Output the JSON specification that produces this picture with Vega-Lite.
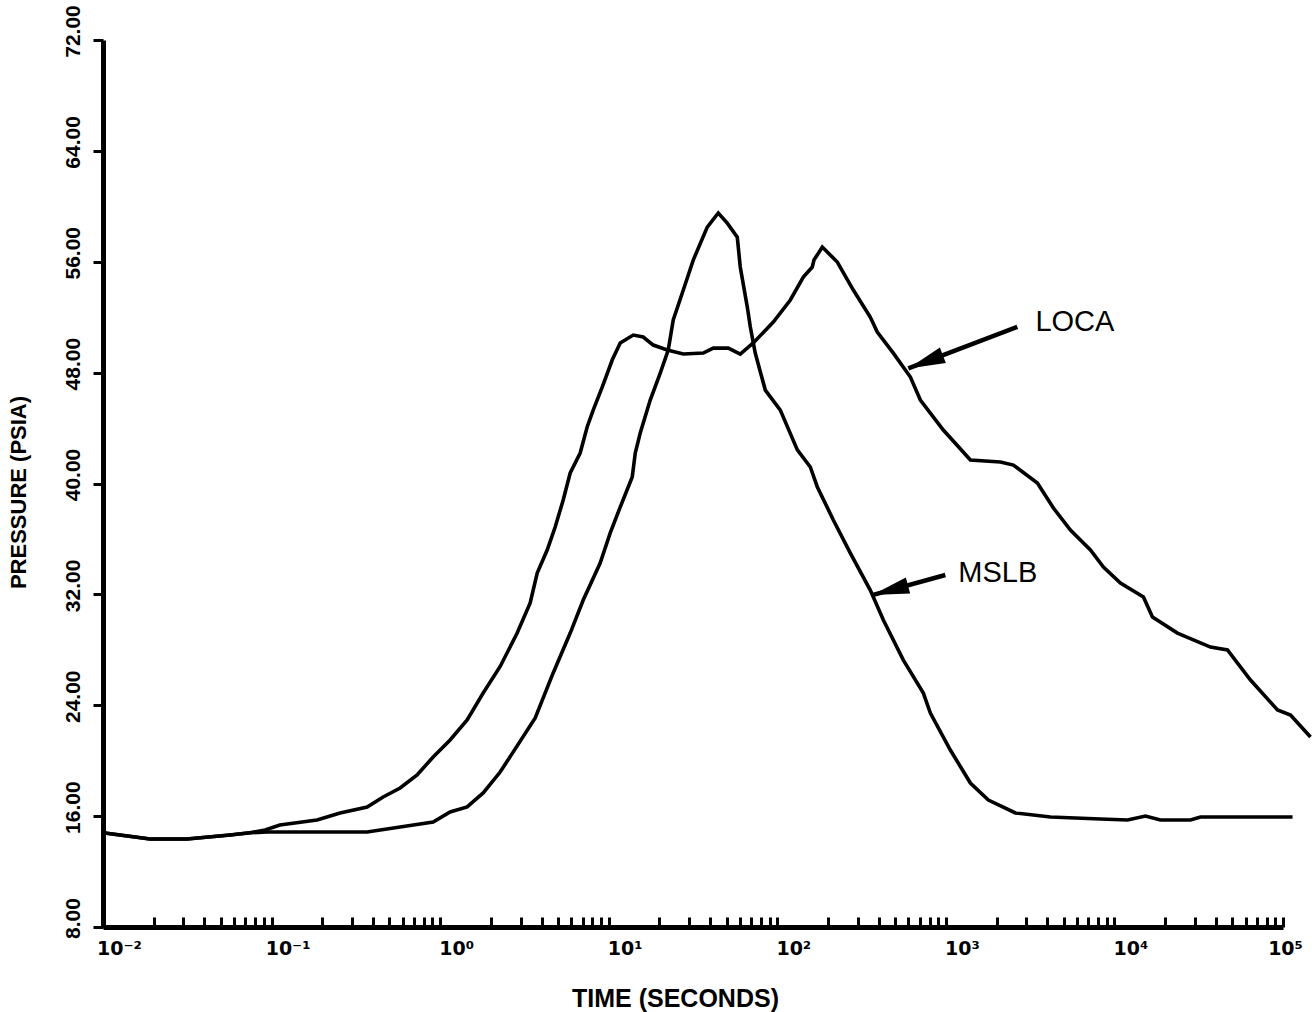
{
  "$schema": "https://vega.github.io/schema/vega-lite/v6.json",
  "autosize": {"type": "none"},
  "padding": {"left": 103, "top": 40, "right": 29, "bottom": 85},
  "width": 1180,
  "height": 887,
  "background": "white",
  "config": {"view": {"stroke": null}, "font": "Liberation Sans"},
  "datasets": {
    "curves": [
      {"series": "LOCA", "t": 0.01, "p": 14.8},
      {"series": "LOCA", "t": 0.019, "p": 14.35},
      {"series": "LOCA", "t": 0.0315, "p": 14.35},
      {"series": "LOCA", "t": 0.0567, "p": 14.64},
      {"series": "LOCA", "t": 0.0745, "p": 14.8},
      {"series": "LOCA", "t": 0.0915, "p": 15.0},
      {"series": "LOCA", "t": 0.112, "p": 15.36},
      {"series": "LOCA", "t": 0.186, "p": 15.72},
      {"series": "LOCA", "t": 0.255, "p": 16.23},
      {"series": "LOCA", "t": 0.369, "p": 16.66},
      {"series": "LOCA", "t": 0.459, "p": 17.38},
      {"series": "LOCA", "t": 0.579, "p": 18.03},
      {"series": "LOCA", "t": 0.73, "p": 18.97},
      {"series": "LOCA", "t": 0.909, "p": 20.27},
      {"series": "LOCA", "t": 1.146, "p": 21.49},
      {"series": "LOCA", "t": 1.446, "p": 22.94},
      {"series": "LOCA", "t": 1.8, "p": 24.88},
      {"series": "LOCA", "t": 2.27, "p": 26.8},
      {"series": "LOCA", "t": 2.864, "p": 29.21},
      {"series": "LOCA", "t": 3.42, "p": 31.38},
      {"series": "LOCA", "t": 3.765, "p": 33.54},
      {"series": "LOCA", "t": 4.315, "p": 35.2},
      {"series": "LOCA", "t": 4.813, "p": 36.86},
      {"series": "LOCA", "t": 5.37, "p": 38.81},
      {"series": "LOCA", "t": 5.91, "p": 40.76},
      {"series": "LOCA", "t": 6.77, "p": 42.2},
      {"series": "LOCA", "t": 7.45, "p": 44.08},
      {"series": "LOCA", "t": 8.09, "p": 45.3},
      {"series": "LOCA", "t": 9.15, "p": 46.96},
      {"series": "LOCA", "t": 10.49, "p": 48.91},
      {"series": "LOCA", "t": 11.7, "p": 50.14},
      {"series": "LOCA", "t": 13.98, "p": 50.71},
      {"series": "LOCA", "t": 16.02, "p": 50.57},
      {"series": "LOCA", "t": 18.37, "p": 49.99},
      {"series": "LOCA", "t": 22.25, "p": 49.63},
      {"series": "LOCA", "t": 27.7, "p": 49.34},
      {"series": "LOCA", "t": 36.4, "p": 49.41},
      {"series": "LOCA", "t": 41.7, "p": 49.77},
      {"series": "LOCA", "t": 51.2, "p": 49.77},
      {"series": "LOCA", "t": 60.3, "p": 49.34},
      {"series": "LOCA", "t": 72.0, "p": 50.14},
      {"series": "LOCA", "t": 94.7, "p": 51.65},
      {"series": "LOCA", "t": 119.5, "p": 53.24},
      {"series": "LOCA", "t": 142.7, "p": 54.9},
      {"series": "LOCA", "t": 161.3, "p": 55.62},
      {"series": "LOCA", "t": 165, "p": 56.12},
      {"series": "LOCA", "t": 185, "p": 57.06},
      {"series": "LOCA", "t": 227, "p": 55.98},
      {"series": "LOCA", "t": 282.5, "p": 53.96},
      {"series": "LOCA", "t": 356, "p": 52.01},
      {"series": "LOCA", "t": 392, "p": 50.93},
      {"series": "LOCA", "t": 488, "p": 49.41},
      {"series": "LOCA", "t": 616, "p": 47.68},
      {"series": "LOCA", "t": 706, "p": 46.02},
      {"series": "LOCA", "t": 966, "p": 43.86},
      {"series": "LOCA", "t": 1398, "p": 41.69},
      {"series": "LOCA", "t": 2106, "p": 41.55},
      {"series": "LOCA", "t": 2516, "p": 41.33},
      {"series": "LOCA", "t": 3491, "p": 40.03},
      {"series": "LOCA", "t": 4345, "p": 38.23},
      {"series": "LOCA", "t": 5482, "p": 36.64},
      {"series": "LOCA", "t": 7204, "p": 35.2},
      {"series": "LOCA", "t": 8604, "p": 33.97},
      {"series": "LOCA", "t": 10854, "p": 32.82},
      {"series": "LOCA", "t": 14864, "p": 31.81},
      {"series": "LOCA", "t": 16810, "p": 30.37},
      {"series": "LOCA", "t": 23650, "p": 29.21},
      {"series": "LOCA", "t": 37130, "p": 28.2},
      {"series": "LOCA", "t": 46840, "p": 27.99},
      {"series": "LOCA", "t": 64140, "p": 25.82},
      {"series": "LOCA", "t": 92770, "p": 23.66},
      {"series": "LOCA", "t": 110800, "p": 23.3},
      {"series": "LOCA", "t": 145600, "p": 21.71},
      {"series": "MSLB", "t": 0.01, "p": 14.8},
      {"series": "MSLB", "t": 0.019, "p": 14.35},
      {"series": "MSLB", "t": 0.0315, "p": 14.35},
      {"series": "MSLB", "t": 0.0567, "p": 14.64},
      {"series": "MSLB", "t": 0.0745, "p": 14.8},
      {"series": "MSLB", "t": 0.094, "p": 14.85},
      {"series": "MSLB", "t": 0.369, "p": 14.85},
      {"series": "MSLB", "t": 0.579, "p": 15.22},
      {"series": "MSLB", "t": 0.909, "p": 15.58},
      {"series": "MSLB", "t": 1.146, "p": 16.3},
      {"series": "MSLB", "t": 1.446, "p": 16.66},
      {"series": "MSLB", "t": 1.8, "p": 17.67},
      {"series": "MSLB", "t": 2.27, "p": 19.18},
      {"series": "MSLB", "t": 3.664, "p": 23.08},
      {"series": "MSLB", "t": 4.683, "p": 26.33},
      {"series": "MSLB", "t": 5.91, "p": 29.21},
      {"series": "MSLB", "t": 7.06, "p": 31.59},
      {"series": "MSLB", "t": 8.9, "p": 34.26},
      {"series": "MSLB", "t": 10.21, "p": 36.43},
      {"series": "MSLB", "t": 11.7, "p": 38.3},
      {"series": "MSLB", "t": 13.79, "p": 40.47},
      {"series": "MSLB", "t": 14.37, "p": 42.2},
      {"series": "MSLB", "t": 15.38, "p": 43.64},
      {"series": "MSLB", "t": 17.63, "p": 46.02},
      {"series": "MSLB", "t": 20.21, "p": 47.97},
      {"series": "MSLB", "t": 22.55, "p": 49.63},
      {"series": "MSLB", "t": 24.14, "p": 51.8},
      {"series": "MSLB", "t": 27.7, "p": 53.96},
      {"series": "MSLB", "t": 31.73, "p": 56.12},
      {"series": "MSLB", "t": 38.42, "p": 58.5},
      {"series": "MSLB", "t": 44.66, "p": 59.52},
      {"series": "MSLB", "t": 50.5, "p": 58.79},
      {"series": "MSLB", "t": 57.9, "p": 57.78},
      {"series": "MSLB", "t": 60.3, "p": 55.62},
      {"series": "MSLB", "t": 66.4, "p": 52.73},
      {"series": "MSLB", "t": 69.2, "p": 51.29},
      {"series": "MSLB", "t": 74.0, "p": 49.41},
      {"series": "MSLB", "t": 84.9, "p": 46.74},
      {"series": "MSLB", "t": 104.2, "p": 45.3},
      {"series": "MSLB", "t": 131.5, "p": 42.42},
      {"series": "MSLB", "t": 157, "p": 41.19},
      {"series": "MSLB", "t": 172.8, "p": 39.75},
      {"series": "MSLB", "t": 215, "p": 37.37},
      {"series": "MSLB", "t": 271.2, "p": 34.98},
      {"series": "MSLB", "t": 356, "p": 32.31},
      {"series": "MSLB", "t": 425.8, "p": 30.15},
      {"series": "MSLB", "t": 559.5, "p": 27.26},
      {"series": "MSLB", "t": 735.4, "p": 24.88},
      {"series": "MSLB", "t": 809, "p": 23.44},
      {"series": "MSLB", "t": 1063, "p": 20.77},
      {"series": "MSLB", "t": 1398, "p": 18.39},
      {"series": "MSLB", "t": 1787, "p": 17.16},
      {"series": "MSLB", "t": 2585, "p": 16.23},
      {"series": "MSLB", "t": 4172, "p": 15.94},
      {"series": "MSLB", "t": 8260, "p": 15.79},
      {"series": "MSLB", "t": 11950, "p": 15.72},
      {"series": "MSLB", "t": 15280, "p": 16.01},
      {"series": "MSLB", "t": 18750, "p": 15.72},
      {"series": "MSLB", "t": 28250, "p": 15.72},
      {"series": "MSLB", "t": 32390, "p": 15.94},
      {"series": "MSLB", "t": 113900, "p": 15.94}
    ],
    "arrows": [
      {"label": "LOCA", "role": "tail", "t": 2655, "p": 51.3},
      {"label": "LOCA", "role": "tip", "t": 599, "p": 48.3},
      {"label": "MSLB", "role": "tail", "t": 993, "p": 33.4},
      {"label": "MSLB", "role": "tip", "t": 366, "p": 31.95}
    ],
    "notes": [
      {"label": "LOCA", "t": 3398, "p": 51.65},
      {"label": "MSLB", "t": 1186, "p": 33.54}
    ]
  },
  "encoding": {
    "x": {
      "field": "t", "type": "quantitative",
      "scale": {"type": "log", "domain": [0.01, 100000], "nice": false},
      "axis": {
        "title": "TIME (SECONDS)",
        "values": [0.01,0.02,0.03,0.04,0.05,0.06,0.07,0.08,0.09,0.1,0.2,0.3,0.4,0.5,0.6,0.7,0.8,0.9,1,2,3,4,5,6,7,8,9,10,20,30,40,50,60,70,80,90,100,200,300,400,500,600,700,800,900,1000,2000,3000,4000,5000,6000,7000,8000,9000,10000,20000,30000,40000,50000,60000,70000,80000,90000,100000],
        "labelExpr": "abs(log(datum.value)/LN10 - round(log(datum.value)/LN10)) < 0.001 ? ['10⁻²','10⁻¹','10⁰','10¹','10²','10³','10⁴','10⁵'][round(log(datum.value)/LN10)+2] : ''",
        "labelOverlap": false,
        "labelFlush": false,
        "labelFont": "DejaVu Sans",
        "labelFontSize": 19,
        "labelFontWeight": "bold",
        "labelColor": "black",
        "labelPadding": 22,
        "labelOffset": {"condition": {"test": "datum.value > 50000", "value": 2}, "value": 16},
        "tickSize": -10,
        "tickWidth": 3,
        "tickColor": "black",
        "domainColor": "black",
        "domainWidth": 5,
        "grid": false,
        "titleFont": "Liberation Sans",
        "titleFontSize": 25,
        "titleFontWeight": "bold",
        "titleColor": "black",
        "titlePadding": 28,
        "titleX": 572
      }
    },
    "y": {
      "field": "p", "type": "quantitative",
      "scale": {"domain": [8, 72], "nice": false, "zero": false},
      "axis": {
        "title": "PRESSURE (PSIA)",
        "values": [8,16,24,32,40,48,56,64,72],
        "format": ".2f",
        "labelAngle": 270,
        "labelAlign": "center",
        "labelBaseline": "bottom",
        "labelOffset": -9,
        "labelFont": "Liberation Sans",
        "labelFontSize": 21,
        "labelFontWeight": "bold",
        "labelColor": "black",
        "labelPadding": 10,
        "tickSize": 10,
        "tickWidth": 3,
        "tickColor": "black",
        "domainColor": "black",
        "domainWidth": 5,
        "grid": false,
        "titleFont": "Liberation Sans",
        "titleFontSize": 22,
        "titleFontWeight": "bold",
        "titleColor": "black",
        "titlePadding": 32,
        "titleY": 452
      }
    }
  },
  "layer": [
    {
      "data": {"name": "curves"},
      "mark": {"type": "line", "color": "black", "strokeWidth": 3.6, "clip": false},
      "encoding": {
        "detail": {"field": "series", "type": "nominal"}
      }
    },
    {
      "data": {"name": "arrows"},
      "mark": {"type": "line", "color": "black", "strokeWidth": 4.5, "clip": false},
      "encoding": {
        "detail": {"field": "label", "type": "nominal"}
      }
    },
    {
      "data": {"name": "arrows"},
      "transform": [{"filter": "datum.role === 'tip'"}],
      "mark": {"type": "point", "shape": "M0,0L0.45,2L-0.45,2Z", "filled": true, "color": "black", "opacity": 1, "size": 1369, "clip": false},
      "encoding": {
        "angle": {"condition": {"test": "datum.label === 'LOCA'", "value": 249}, "value": 255}
      }
    },
    {
      "data": {"name": "notes"},
      "mark": {"type": "text", "align": "left", "baseline": "middle", "font": "Liberation Sans", "fontSize": 29, "color": "black", "clip": false},
      "encoding": {
        "text": {"field": "label"}
      }
    }
  ]
}
